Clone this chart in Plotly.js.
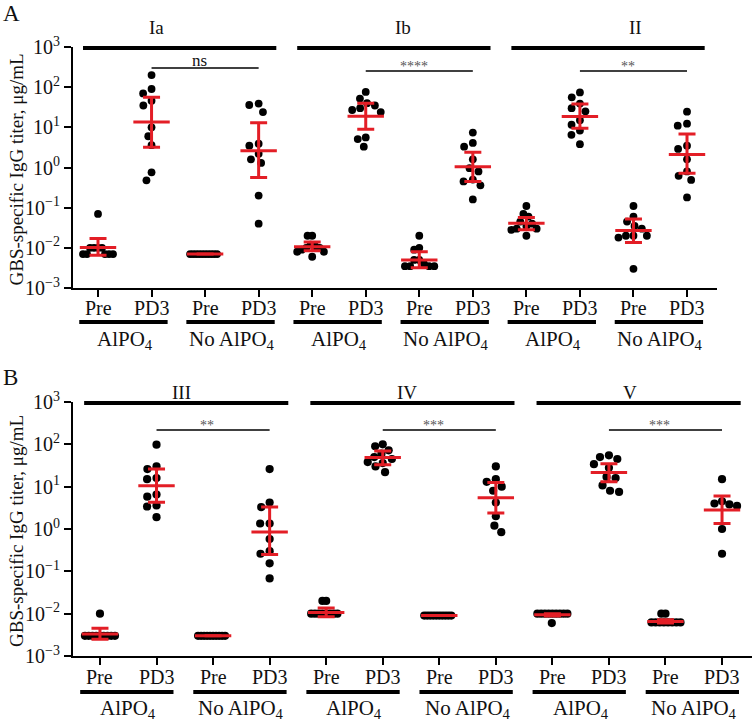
<!DOCTYPE html>
<html><head><meta charset="utf-8">
<script src="https://cdn.plot.ly/plotly-3.0.1.min.js"></script>
<style>body{margin:0;background:#fff}</style>
</head><body><div id="chart" style="width:753px;height:727px"></div>
<script>
// ---------- DATA ----------
const tickLabelsX = ['Pre','PD3','Pre','PD3','Pre','PD3','Pre','PD3','Pre','PD3','Pre','PD3'];
const yTickVals = [0.001,0.01,0.1,1,10,100,1000];
const yTickText = ['10<sup>−3</sup>','10<sup>−2</sup>','10<sup>−1</sup>','10<sup>0</sup>','10<sup>1</sup>','10<sup>2</sup>','10<sup>3</sup>'];
const serotypesA = ['Ia','Ib','II'];
const serotypesB = ['III','IV','V'];
const sigA = ['ns','****','**'];
const sigB = ['**','***','***'];
const adjuvantLabels = ['AlPO<sub>4</sub>','No AlPO<sub>4</sub>'];

// Panel A individual values (Pre AlPO4, PD3 AlPO4, Pre No, PD3 No)
const Ia = [
  [0.07,0.01,0.01,0.01,0.01,0.007,0.007,0.007,0.007,0.007],
  [200,90,70,46,35,10,6,3.6,0.76,0.48],
  [0.007,0.007,0.007,0.007,0.007,0.007,0.007,0.007,0.007,0.007],
  [39,36,24,3.9,3.5,2.2,1.6,1.3,0.2,0.04]
];
const Ib = [
  [0.02,0.02,0.012,0.011,0.01,0.01,0.009,0.008,0.008,0.006],
  [76,52,40,35,30,27,24,5.6,5.1,3.3],
  [0.02,0.01,0.009,0.005,0.005,0.004,0.0035,0.0035,0.0035,0.0035],
  [7.4,4.1,3.3,1.6,0.96,0.8,0.5,0.45,0.36,0.16]
];
const II = [
  [0.11,0.07,0.06,0.045,0.04,0.035,0.03,0.03,0.028,0.02],
  [74,56,39,30,25,15,11.6,8.3,6.5,3.8],
  [0.11,0.06,0.045,0.035,0.03,0.02,0.02,0.02,0.018,0.003],
  [24.5,12.3,11,3.5,2.9,1.6,0.8,0.62,0.49,0.18]
];
const meanA = [0.0102,13.5,0.007,2.6,0.0107,19,0.005,1.05,0.041,18.7,0.027,2.1];
const lowA  = [0.0065,3.2,0.007,0.56,0.0085,9,0.0032,0.45,0.028,9.5,0.0135,0.72];
const highA = [0.017,56,0.007,13,0.014,40,0.008,2.4,0.057,38,0.052,6.8];

// Panel B
const III = [
  [0.01,0.003,0.003,0.003,0.003,0.003,0.003,0.003,0.003,0.003],
  [98,30,26,16,15,6.5,5.8,3.6,3.4,1.9],
  [0.003,0.003,0.003,0.003,0.003,0.003,0.003,0.003,0.003,0.003],
  [26,4.2,3.3,1.35,1.35,0.58,0.30,0.26,0.155,0.068]
];
const IV = [
  [0.02,0.02,0.01,0.01,0.01,0.01,0.01,0.01,0.01,0.01],
  [100,90,72,60,50,45,38,36,30,22],
  [0.009,0.009,0.009,0.009,0.009,0.009,0.009,0.009,0.009,0.009],
  [30,15,13,10,8,4.2,2,1.2,0.84]
];
const V = [
  [0.01,0.01,0.01,0.01,0.01,0.01,0.01,0.01,0.01,0.006],
  [55,50,45,34,28,17,16,10.7,8,7.5],
  [0.01,0.01,0.0062,0.0062,0.0062,0.0062,0.0062,0.0062,0.0062,0.0062],
  [15,4.5,4,3.8,3.5,1.0,0.26]
];
const meanB = [0.0033,10.5,0.003,0.85,0.0107,49,0.009,5.5,0.0094,21.5,0.0065,2.8];
const lowB  = [0.0025,4.3,0.003,0.25,0.0084,33,0.009,2.4,0.0088,13,0.006,1.35];
const highB = [0.0045,26,0.003,3.3,0.0137,70,0.009,12.5,0.0100,35,0.0072,6];

// ---------- LAYOUT CONSTANTS ----------
const W = 753, H = 727;
const FONT = "'Liberation Serif', 'Times New Roman', serif";
const RED = '#e31e26';
const P = {
  A: {x0:73, x1:717, y0:47, y1:288, xr:[-0.467,11.56], catY:308, barY2:322, adjY:340, sigY:[68,71,71], labY:27, serX:[1.10,5.70,10.04], letterY:13},
  B: {x0:73, x1:752, y0:402, y1:656, xr:[-0.477,11.53], catY:677, barY2:692, adjY:709, sigY:[430,430,430], labY:392, serX:[1.45,5.43,9.38], letterY:377}
};
const py = px => 1 - px/H;

function swarm(vals, pxDec, pxUnit, diam, maxHalf){
  const pts = vals.map((v,i)=>({i, y: Math.log10(v)*pxDec}));
  pts.sort((a,b)=>b.y-a.y);
  const placed=[];
  for(const p of pts){
    const c=[0];
    for(const q of placed){
      const dy=Math.abs(p.y-q.y);
      if(dy<diam){const dx=Math.sqrt(diam*diam-dy*dy); c.push(q.x+dx,q.x-dx);}
    }
    c.sort((a,b)=>Math.abs(a)-Math.abs(b)||a-b);
    for(const x of c){
      if(placed.every(q=>(q.x-x)**2+(q.y-p.y)**2>=diam*diam-0.01)){p.x=x;break;}
    }
    if(p.x===undefined)p.x=0;
    placed.push(p);
  }
  const m=Math.max(0.001,...placed.map(p=>Math.abs(p.x)));
  const s=m>maxHalf?maxHalf/m:1;
  const off=new Array(vals.length);
  placed.forEach(p=>off[p.i]=p.x*s/pxUnit);
  return off;
}

const traces=[];
const shapes=[];
const annotations=[];

function panel(key, groups, means, lows, highs, seros, sigs, xa, ya, geo){
  const pxUnit=(geo.x1-geo.x0)/(geo.xr[1]-geo.xr[0]);
  const pxDec=(geo.y1-geo.y0)/6;
  const xs=[], ys=[];
  groups.forEach((g,gi)=>g.forEach((vals,j)=>{
    const idx=gi*4+j;
    const off=swarm(vals,pxDec,pxUnit,9.5,15);
    vals.forEach((v,k)=>{xs.push(idx+off[k]); ys.push(v);});
  }));
  traces.push({type:'scatter',mode:'markers',x:xs,y:ys,xaxis:xa,yaxis:ya,
    marker:{color:'#000',size:key==='A'?7.8:8.2,line:{width:0}},hoverinfo:'skip'});
  const idxs=means.map((_,i)=>i);
  traces.push({type:'scatter',mode:'markers',x:idxs,y:means,xaxis:xa,yaxis:ya,
    marker:{symbol:'line-ew',size:26,color:RED,line:{width:3,color:RED}},
    error_y:{type:'data',symmetric:false,array:highs.map((h,i)=>h-means[i]),
      arrayminus:lows.map((l,i)=>means[i]-l),color:RED,thickness:3,width:8.5},hoverinfo:'skip'});
  const xref = xa;
  tickLabelsX.forEach((t,i)=>{
    annotations.push({xref:xref,yref:'paper',x:i,y:py(geo.catY),text:t,showarrow:false,
      font:{family:FONT,size:20,color:'#111'},xanchor:'center',yanchor:'middle'});
  });
  seros.forEach((s,gi)=>{
    const b=gi*4;
    shapes.push({type:'line',xref:xref,yref:'paper',x0:b-0.28,x1:b+3.33,y0:py(geo.y0+1),y1:py(geo.y0+1),line:{color:'#000',width:4}});
    annotations.push({xref:xref,yref:'paper',x:geo.serX[gi],y:py(geo.labY),text:s,showarrow:false,
      font:{family:FONT,size:19,color:'#111'},xanchor:'center',yanchor:'middle'});
    shapes.push({type:'line',xref:xref,yref:'paper',x0:b+1,x1:b+3,y0:py(geo.sigY[gi]),y1:py(geo.sigY[gi]),line:{color:'#000',width:1.6}});
    const isNs = sigs[gi]==='ns';
    annotations.push({xref:xref,yref:'paper',x:b+1.9,y:py(geo.sigY[gi]-(isNs?8:5)),text:sigs[gi],showarrow:false,
      font:{family:FONT,size:isNs?17:14,color:isNs?'#111':'#555'},xanchor:'center',yanchor:'middle'});
    [0,2].forEach((o,k)=>{
      const i=b+o;
      shapes.push({type:'line',xref:xref,yref:'paper',x0:i-0.35,x1:i+1.3,y0:py(geo.barY2),y1:py(geo.barY2),line:{color:'#000',width:4}});
      annotations.push({xref:xref,yref:'paper',x:i+0.5,y:py(geo.adjY),text:adjuvantLabels[k],showarrow:false,
        font:{family:FONT,size:21,color:'#111'},xanchor:'center',yanchor:'middle'});
    });
  });
  annotations.push({xref:'paper',yref:'paper',x:1/W,y:py(geo.letterY),text:key,showarrow:false,
    font:{family:FONT,size:23,color:'#111'},xanchor:'left',yanchor:'middle'});
  annotations.push({xref:'paper',yref:'paper',x:16/W,y:py((geo.y0+geo.y1)/2+2),text:'GBS-specific IgG titer, μg/mL',
    textangle:-90,showarrow:false,font:{family:FONT,size:19,color:'#111'},xanchor:'center',yanchor:'middle'});
}

panel('A',[Ia,Ib,II],meanA,lowA,highA,serotypesA,sigA,'x','y',P.A);
panel('B',[III,IV,V],meanB,lowB,highB,serotypesB,sigB,'x2','y2',P.B);

function xaxis(geo,anchor){
  return {domain:[geo.x0/W,geo.x1/W],range:geo.xr,anchor:anchor,showgrid:false,zeroline:false,
    showline:true,linewidth:2,linecolor:'#000',ticks:'outside',ticklen:7,tickwidth:2,tickcolor:'#000',
    tickvals:tickLabelsX.map((_,i)=>i),showticklabels:false,fixedrange:true};
}
function yaxis(geo,anchor){
  return {type:'log',domain:[py(geo.y1),py(geo.y0)],range:[-3,3],anchor:anchor,showgrid:false,zeroline:false,
    showline:true,linewidth:2,linecolor:'#000',ticks:'outside',ticklen:7,tickwidth:2,tickcolor:'#000',
    tickvals:yTickVals,ticktext:yTickText,tickfont:{family:FONT,size:20,color:'#111'},fixedrange:true};
}

const layout={width:W,height:H,margin:{l:0,r:0,t:0,b:0},paper_bgcolor:'#fff',plot_bgcolor:'rgba(0,0,0,0)',
  showlegend:false,font:{family:FONT},
  xaxis:xaxis(P.A,'y'),yaxis:yaxis(P.A,'x'),xaxis2:xaxis(P.B,'y2'),yaxis2:yaxis(P.B,'x2'),
  shapes:shapes,annotations:annotations};
Plotly.newPlot('chart',traces,layout,{staticPlot:true,displayModeBar:false});
</script></body></html>
